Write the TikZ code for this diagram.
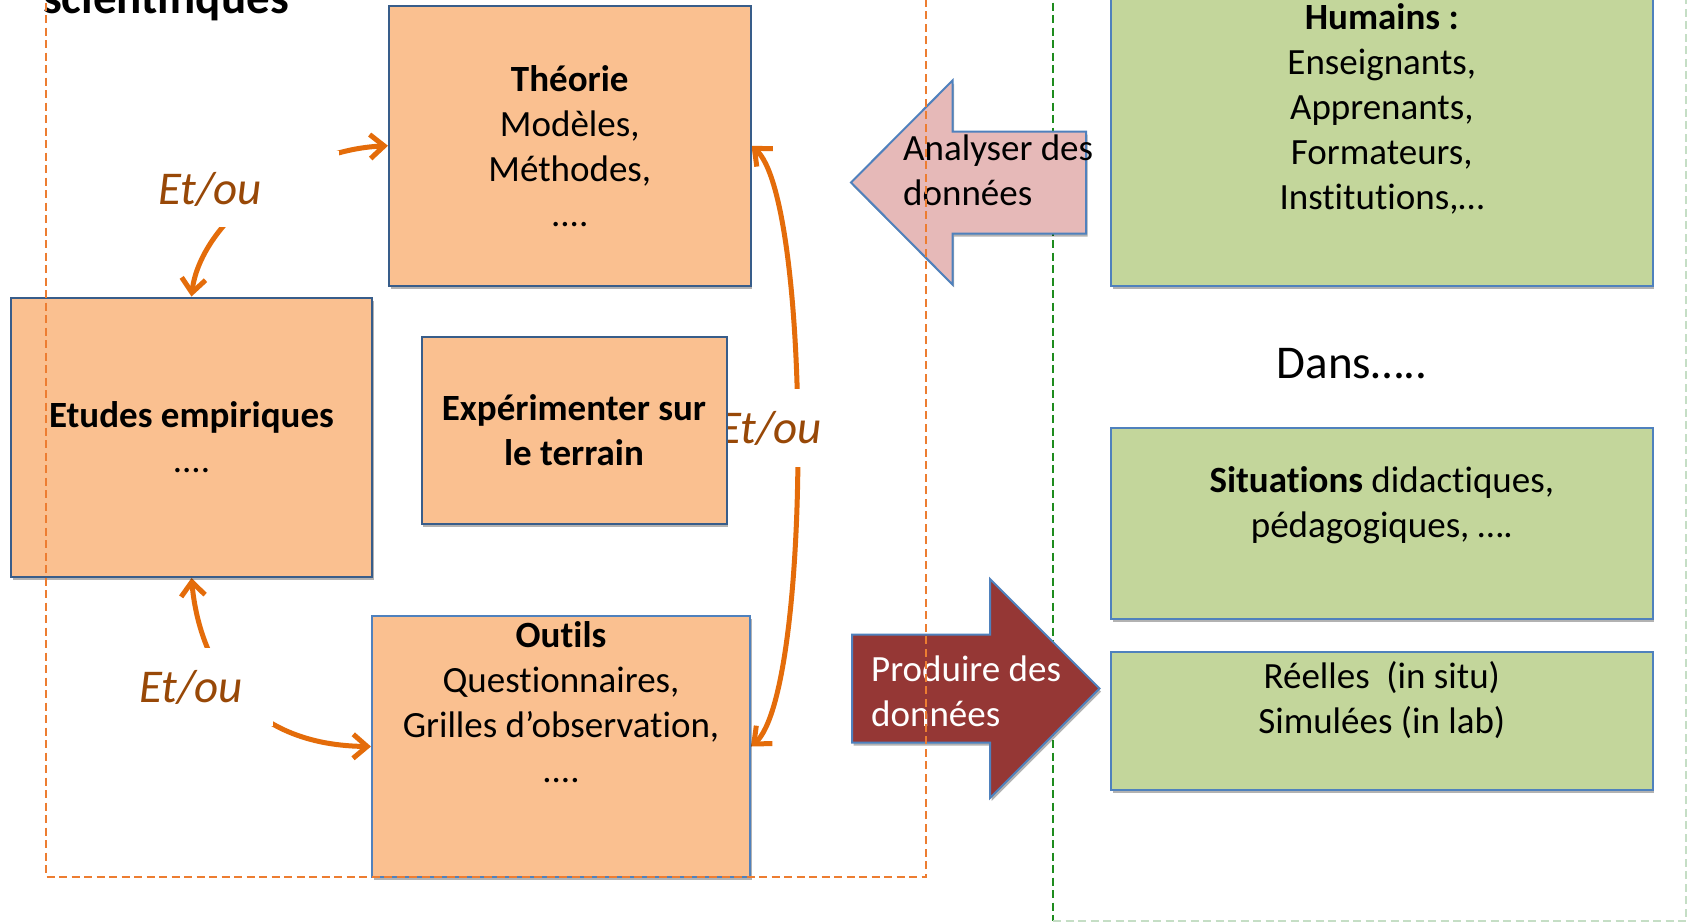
\documentclass[tikz,border=0pt]{standalone}
\usepackage{fontspec}
\setmainfont{Carlito}[Ligatures=NoCommon]
\usetikzlibrary{arrows.meta,shadows}
\definecolor{boxfill}{HTML}{FAC090}
\definecolor{boxline}{HTML}{385D8A}
\definecolor{lightline}{HTML}{4F81BD}
\definecolor{greenfill}{HTML}{C3D69B}
\definecolor{pinkfill}{HTML}{E6B9B8}
\definecolor{redfill}{HTML}{953735}
\definecolor{arrorange}{HTML}{E46C0A}
\definecolor{etou}{HTML}{984807}
\definecolor{dashorange}{HTML}{ED7D31}
\definecolor{dashgreen}{HTML}{1E8C1E}
\definecolor{fadegreen}{HTML}{C5DEC5}
\pgfdeclarelayer{bg}
\pgfdeclarelayer{mid}
\pgfdeclarelayer{fg}
\pgfsetlayers{bg,mid,main,fg}
\tikzset{
  shad/.style={drop shadow={shadow xshift=1.5pt,shadow yshift=-3pt,opacity=0.3,fill=black}},
  obox/.style={draw=boxline, line width=2pt, fill=boxfill, shad, align=center, inner sep=0pt, font=\fontsize{37}{45}\selectfont},
  obox2/.style={obox, draw=lightline},
  gbox/.style={draw=lightline, line width=2pt, fill=greenfill, shad, align=center, inner sep=0pt, font=\fontsize{37}{45}\selectfont},
  txt/.style={align=center, inner sep=0pt, font=\fontsize{37}{45}\selectfont},
  etoulbl/.style={fill=white, inner sep=0pt, text=etou, font=\fontsize{47}{56}\selectfont\itshape},
  conn/.style={draw=arrorange, line width=5pt, line cap=round, >={Straight Barb[length=14pt,width=24pt]}, <->},
  dashbox/.style={line width=2pt, dash pattern=on 8pt off 4.5pt},
  pinkarr/.style={draw=lightline, line width=2pt, fill=pinkfill, line join=miter, shad},
  redarr/.style={draw=lightline, line width=2pt, fill=redfill, line join=miter, shad},
}
\begin{document}
\begin{tikzpicture}[x=1pt,y=-1pt]
\useasboundingbox (0,0) rectangle (1687,922);

% boxes (left)
\node[obox, minimum width=361.5pt, minimum height=279.5pt] (theo) at (569.75,145.75)
  {\textbf{Théorie}\\Modèles,\\Méthodes,\\....};
\node[obox, minimum width=361pt, minimum height=279.5pt] (etudes) at (191.5,437.25)
  {\textbf{Etudes empiriques}\\....};
\node[obox, minimum width=305pt, minimum height=187pt] (exper) at (574,430)
  {\textbf{Expérimenter sur}\\\textbf{le terrain}};
\node[obox2, minimum width=378pt, minimum height=261pt] (outils) at (561,746.5) {};
\node[txt, anchor=north] (outilstxt) at (561,621)
  {\textbf{Outils}\\Questionnaires,\\Grilles d’observation,\\....};

% title fragment
\node[anchor=base west, inner sep=0pt, font=\fontsize{47}{56}\selectfont\bfseries] (sci) at (43,13) {scientifiques};

% boxes (right)
\node[gbox, minimum width=541.6pt, minimum height=352.5pt] (hum) at (1381.8,109.25)
  {\textbf{Humains :}\\Enseignants,\\Apprenants,\\Formateurs,\\Institutions,…};
\node[font=\fontsize{47}{56}\selectfont, inner sep=0pt] (dans) at (1352,363.6) {Dans…..};
\node[gbox, minimum width=541.6pt, minimum height=191pt] (situ) at (1381.8,523) {};
\node[txt] (situtxt) at (1381.8,505) {\textbf{Situations} didactiques,\\pédagogiques, ….};
\node[gbox, minimum width=541.6pt, minimum height=138.5pt] (reel) at (1381.8,720.75) {};
\node[txt] (reeltxt) at (1381.8,700) {Réelles~ (in situ)\\Simulées (in lab)};

% block arrows
\draw[pinkarr] (851,182.5) -- (952.5,80.5) -- (952.5,131.5) -- (1086,131.5) -- (1086,233.5)
  -- (952.5,233.5) -- (952.5,284.5) -- cycle;
\node[txt, align=left, anchor=west] (analyser) at (903,170.5) {Analyser des\\données};
\draw[redarr] (852,634.5) -- (990,634.5) -- (990,579) -- (1099.5,688.5) -- (990,798)
  -- (990,742.5) -- (852,742.5) -- cycle;
\node[txt, align=left, anchor=west, text=white] (produire) at (871,691.5) {Produire des\\données};

\begin{pgfonlayer}{bg}
  \fill[white] (0,0) rectangle (1687,922);
  \draw[dashbox, draw=dashgreen] (1053,-10) -- (1053,921);
  \draw[dashbox, draw=fadegreen] (1053,921) -- (1686,921) -- (1686,-10);
  \draw[conn] (etudes.north) .. controls (200,225) and (290,150) .. (theo.west);
  \draw[conn] (etudes.south) .. controls (198,650) and (235,745) .. (outils.west);
  \draw[conn] (theo.east) .. controls (812,200) and (812,692) .. (outils.east);
\end{pgfonlayer}

\begin{pgfonlayer}{mid}
  \node[etoulbl, minimum width=258pt, minimum height=76pt] (l1) at (210,189) {Et/ou};
  \node[etoulbl, minimum width=164pt, minimum height=78pt] (l2) at (191,687) {Et/ou};
  \node[etoulbl, minimum width=110pt, minimum height=78pt] (l3) at (770,428) {Et/ou};
\end{pgfonlayer}

\begin{pgfonlayer}{fg}
  \draw[dashbox, draw=dashorange] (46,-10) -- (46,877) -- (926,877) -- (926,-10);
\end{pgfonlayer}
\end{tikzpicture}
\end{document}
